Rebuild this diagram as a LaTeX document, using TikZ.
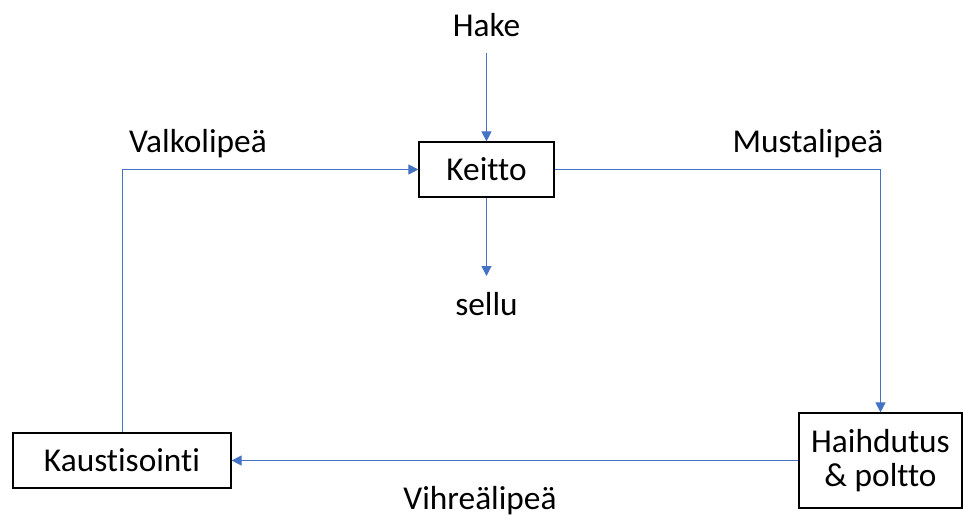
\documentclass[tikz,border=0pt]{standalone}
\usepackage{fontspec}
\setmainfont{Carlito}[Ligatures=NoCommon]
\usetikzlibrary{arrows.meta}
\definecolor{flowblue}{HTML}{4472C4}
\begin{document}
\begin{tikzpicture}[
  x=0.75pt, y=-0.75pt,
  font=\fontsize{25}{26}\selectfont,
  stage/.style={draw=black, line width=0.9pt, inner sep=0pt, align=center},
  tag/.style={inner sep=0pt, anchor=base},
  flow/.style={draw=flowblue, line width=0.75pt, -{Triangle[length=7.5pt,width=7.5pt]}},
]
\path[use as bounding box] (0,0) rectangle (963,518);

% process stages
\node[stage, minimum width=101.25pt, minimum height=41.25pt] (keitto) at (486.5,169.5) {Keitto};
\node[stage, minimum width=163.5pt, minimum height=41.25pt] (kaust) at (122,460.5) {Kaustisointi};
\node[stage, minimum width=122.25pt, minimum height=71.25pt] (haihd) at (880.5,460.5) {Haihdutus\\\& poltto};

% inputs and outputs
\node[tag] (hake) at (486.5,36) {Hake};
\node[tag] (sellu) at (486.5,315) {sellu};
\coordinate (hakeend) at (486.5,53);
\coordinate (selluend) at (486.5,276);

% liquor names
\node[tag] (valko) at (198,152) {Valkolipeä};
\node[tag] (musta) at (808,152) {Mustalipeä};
\node[tag] (vihrea) at (480,509) {Vihreälipeä};

% connectors
\draw[flow] (hakeend) -- (keitto.north);
\draw[flow] (keitto.south) -- (selluend);
\draw[flow] (keitto.east) -| (haihd.north);
\draw[flow] (haihd.west) -- (kaust.east);
\draw[flow] (kaust.north) |- (keitto.west);
\end{tikzpicture}
\end{document}
